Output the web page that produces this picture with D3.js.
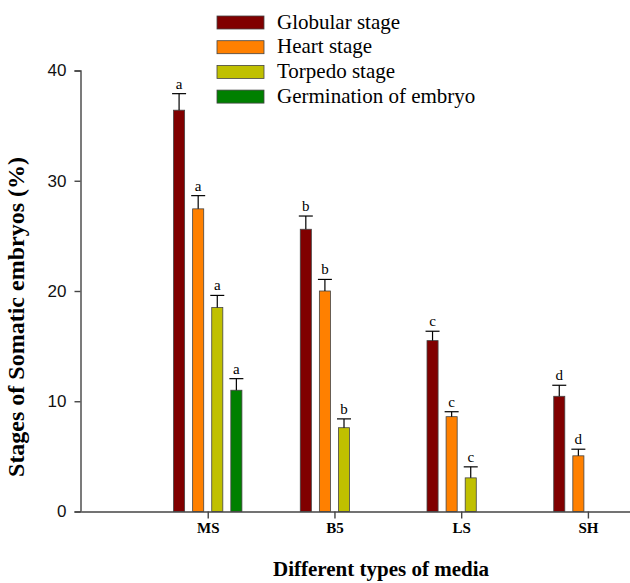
<!DOCTYPE html>
<html>
<head>
<meta charset="utf-8">
<script src="https://cdn.jsdelivr.net/npm/d3@7"></script>
<style>
  body { margin: 0; background: #fff; }
  svg { display: block; }
</style>
</head>
<body>
<svg></svg>
<script>
  let svgWidth = 630
  let svgHeight = 583
  let serif = '"Liberation Serif", "Times New Roman", serif'

  let media = ['MS', 'B5', 'LS', 'SH']
  let stages = ['Globular stage', 'Heart stage', 'Torpedo stage', 'Germination of embryo']
  let colors = ['#800000', '#ff8000', '#c0c000', '#008000']

  // values per stage, in media order (null = no bar)
  let globular = [36.4, 25.6, 15.5, 10.45]
  let heart = [27.45, 20.0, 8.6, 5.05]
  let torpedo = [18.5, 7.6, 3.05, null]
  let germination = [11.0, null, null, null]

  let globularErr = [1.5, 1.2, 0.85, 1.0]
  let heartErr = [1.2, 1.05, 0.45, 0.6]
  let torpedoErr = [1.1, 0.8, 1.0, null]
  let germinationErr = [1.05, null, null, null]

  let globularLetters = ['a', 'b', 'c', 'd']
  let heartLetters = ['a', 'b', 'c', 'd']
  let torpedoLetters = ['a', 'b', 'c', null]
  let germinationLetters = ['a', null, null, null]

  let yTicks = [0, 10, 20, 30, 40]

  let values = [globular, heart, torpedo, germination]
  let errors = [globularErr, heartErr, torpedoErr, germinationErr]
  let letters = [globularLetters, heartLetters, torpedoLetters, germinationLetters]

  let data = []
  stages.forEach((s, si) => {
    media.forEach((m, mi) => {
      if (values[si][mi] !== null) {
        data.push({ stage: s, si: si, media: m, mi: mi,
          value: values[si][mi], err: errors[si][mi], letter: letters[si][mi] })
      }
    })
  })

  let svg = d3.select('svg')
      .attr('width', svgWidth)
      .attr('height', svgHeight)

  /* scales */
  let xScale = d3.scaleLinear()
                  .domain([0, 4.34])
                  .range([81, 631])
  let inner = d3.scaleBand()
                  .domain(d3.range(stages.length))
                  .range([-38, 38])
                  .paddingInner(0.42)
                  .paddingOuter(0.2)
  let yScale = d3.scaleLinear()
                  .domain([0, 40])
                  .range([511.5, 70.5])

  let barMid = d => xScale(d.mi + 1) + inner(d.si) + inner.bandwidth() / 2

  /* bars */
  svg.selectAll('.bar')
    .data(data)
    .enter()
    .append('rect')
      .classed('bar', true)
      .attr('x', d => xScale(d.mi + 1) + inner(d.si))
      .attr('y', d => yScale(d.value))
      .attr('width', inner.bandwidth())
      .attr('height', d => yScale(0) - yScale(d.value))
      .attr('fill', d => colors[d.si])
      .attr('stroke', '#444')
      .attr('stroke-width', 0.8)

  /* error bars */
  let errG = svg.selectAll('.err')
    .data(data)
    .enter()
    .append('g')
      .classed('err', true)
      .attr('stroke', '#000')
      .attr('stroke-width', 1.2)
  errG.append('line')
      .attr('x1', barMid)
      .attr('x2', barMid)
      .attr('y1', d => yScale(d.value))
      .attr('y2', d => yScale(d.value + d.err))
  errG.append('line')
      .attr('x1', d => barMid(d) - 7)
      .attr('x2', d => barMid(d) + 7)
      .attr('y1', d => yScale(d.value + d.err))
      .attr('y2', d => yScale(d.value + d.err))

  /* significance letters */
  svg.selectAll('.letter')
    .data(data.filter(d => d.letter))
    .enter()
    .append('text')
      .classed('letter', true)
      .attr('x', barMid)
      .attr('y', d => yScale(d.value + d.err) - 5)
      .attr('text-anchor', 'middle')
      .attr('font-family', serif)
      .attr('font-size', 15)
      .text(d => d.letter)

  /* y axis */
  let yAxis = svg.append('g')
      .attr('transform', 'translate(80.5, 0)')
      .call(d3.axisLeft(yScale).tickValues(yTicks).tickSize(6).tickPadding(8))
  yAxis.selectAll('text')
      .attr('font-family', '"Liberation Sans", Arial, sans-serif')
      .attr('font-size', 17)
      .attr('fill', '#111')
  yAxis.selectAll('path, line').attr('stroke', '#444').attr('stroke-width', 1.4)

  /* x axis */
  let xAxis = svg.append('g')
      .attr('transform', `translate(0, ${yScale(0)})`)
      .call(d3.axisBottom(xScale)
              .tickValues([1, 2, 3, 4])
              .tickFormat(d => media[d - 1])
              .tickSize(7)
              .tickSizeOuter(0)
              .tickPadding(4))
  xAxis.selectAll('text')
      .attr('font-family', serif)
      .attr('font-size', 15)
      .attr('font-weight', 'bold')
      .attr('fill', '#000')
  xAxis.selectAll('path, line').attr('stroke', '#444').attr('stroke-width', 1.4)

  /* axis titles */
  svg.append('text')
      .attr('x', 381)
      .attr('y', 576)
      .attr('text-anchor', 'middle')
      .attr('font-family', serif)
      .attr('font-size', 21)
      .attr('font-weight', 'bold')
      .text('Different types of media')

  svg.append('text')
      .attr('transform', 'translate(24, 317) rotate(-90)')
      .attr('text-anchor', 'middle')
      .attr('font-family', serif)
      .attr('font-size', 24)
      .attr('font-weight', 'bold')
      .text('Stages of Somatic embryos (%)')

  /* legend */
  let legend = svg.selectAll('.legend')
    .data(stages)
    .enter()
    .append('g')
      .classed('legend', true)
      .attr('transform', (d, i) => `translate(217, ${16 + i * 24.7})`)
  legend.append('rect')
      .attr('width', 47)
      .attr('height', 13)
      .attr('fill', (d, i) => colors[i])
      .attr('stroke', '#444')
      .attr('stroke-width', 0.8)
  legend.append('text')
      .attr('x', 60)
      .attr('y', 12.5)
      .attr('font-family', serif)
      .attr('font-size', 21)
      .text(d => d)
</script>
</body>
</html>
